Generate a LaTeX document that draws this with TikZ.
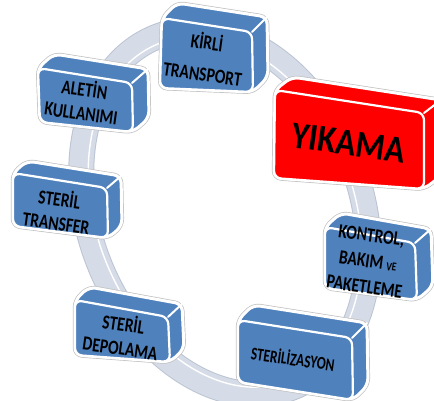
\documentclass[tikz,border=0pt]{standalone}
\usepackage{fontspec}
\setmainfont{Carlito}
\usetikzlibrary{calc}

\definecolor{boxblue}{HTML}{4F81BD}
\definecolor{boxred}{HTML}{FF0000}
\definecolor{ringfill}{HTML}{D5DCE8}
\definecolor{ringedge}{HTML}{BCC4D2}

\tikzset{
  halo/.style={draw=black!25, line width=4.4pt, rounded corners=7pt, line join=round},
  rim/.style={draw=white, line width=3pt, rounded corners=7pt, line join=round},
  face/.style={draw=white, line width=2.2pt, rounded corners=7pt, line join=round},
  edge/.style={draw=white, line width=2pt, line cap=round},
  label/.style={font=\bfseries\fontsize{20}{24}\selectfont, align=center, text=black,
    rotate=-8, xscale=0.78, inner sep=0pt},
  biglabel/.style={font=\bfseries\fontsize{38}{40}\selectfont, text=black,
    rotate=-8, xscale=0.88, inner sep=0pt}
}

% cuboid: name, front TL, TR, BR, BL, depth vector, fill colour
\newcommand\cubebox[7]{%
  \coordinate (#1-tl) at (#2);
  \coordinate (#1-tr) at (#3);
  \coordinate (#1-br) at (#4);
  \coordinate (#1-bl) at (#5);
  \coordinate (#1-btl) at ($(#1-tl)+(#6)$);
  \coordinate (#1-btr) at ($(#1-tr)+(#6)$);
  \coordinate (#1-bbr) at ($(#1-br)+(#6)$);
  \draw[halo] (#1-tl) -- (#1-btl) -- (#1-btr) -- (#1-bbr) -- (#1-br) -- (#1-bl) -- cycle;
  \draw[rim, fill=#7] (#1-tl) -- (#1-btl) -- (#1-btr) -- (#1-bbr) -- (#1-br) -- (#1-bl) -- cycle;
  \draw[face, fill=#7] (#1-tl) -- (#1-tr) -- (#1-br) -- (#1-bl) -- cycle;
  \draw[edge] (#1-tr) -- (#1-btr);
}

\begin{document}
\begin{tikzpicture}[x=1pt, y=-1pt]
\useasboundingbox (0,0) rectangle (434,401);

% the cycle ring behind the boxes
\coordinate (ringc) at (225,212);
\begin{scope}[rotate around={21:(ringc)}]
  \draw[ringedge, line width=26pt] (ringc) ellipse [x radius=136pt, y radius=188pt];
  \draw[ringfill, line width=24pt] (ringc) ellipse [x radius=136pt, y radius=188pt];
  \draw[white, line width=1.4pt] (ringc) ellipse [x radius=129pt, y radius=181pt];
\end{scope}

% boxes
\cubebox{kirli}{162,18}{252,32}{253,92}{160,88}{15,-15}{boxblue}
\cubebox{yikama}{275,90}{424,113}{424,189}{274,178}{17,-13}{boxred}
\cubebox{kontrol}{325,227}{415,243}{417,300}{325,288}{16,-14}{boxblue}
\cubebox{steril}{238,320}{352,338}{353,400}{238,382}{15,-15}{boxblue}
\cubebox{depo}{75,300}{168,317}{170,362}{75,355}{14,-13}{boxblue}
\cubebox{transfer}{13,173}{107,188}{108,238}{13,226}{14,-12}{boxblue}
\cubebox{aletin}{38,68}{132,83}{133,132}{40,122}{16,-14}{boxblue}

% labels
\node[label, font=\bfseries\fontsize{20}{32}\selectfont] (t-kirli) at (205,57) {KİRLİ\\TRANSPORT};
\node[biglabel] (t-yikama) at (349,143) {YIKAMA};
\node[label, font=\bfseries\fontsize{20}{26}\selectfont] (t-kontrol) at (368,261) {KONTROL,\\BAKIM {\fontsize{12}{14}\selectfont VE}\\PAKETLEME};
\node[label, font=\bfseries\fontsize{18}{20}\selectfont, xscale=0.95] (t-steril) at (293,358) {STERİLİZASYON};
\node[label] (t-depo) at (122,335) {STERİL\\DEPOLAMA};
\node[label] (t-transfer) at (58,210) {STERİL\\TRANSFER};
\node[label] (t-aletin) at (83,100) {ALETİN\\KULLANIMI};
\end{tikzpicture}
\end{document}
